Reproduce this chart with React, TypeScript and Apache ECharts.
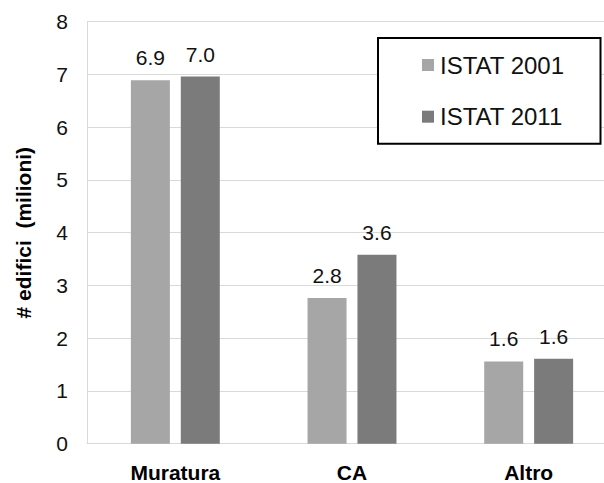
import React, { useEffect, useRef } from "react";
import * as echarts from "echarts";

const categories = ["Muratura", "CA", "Altro"];
const seriesNames = ["ISTAT 2001", "ISTAT 2011"];
const istat2001 = [6.89, 2.76, 1.56];
const istat2011 = [6.96, 3.58, 1.61];
const yMin = 0;
const yMax = 8;
const yInterval = 1;
const yAxisName = "# edifici  (milioni)";

const FONT = "'Liberation Sans', Arial, sans-serif";

export default function App() {
  const ref = useRef<HTMLDivElement>(null);
  useEffect(() => {
    if (!ref.current) return;
    const chart = echarts.init(ref.current, undefined, { renderer: "svg" });
    const labelCfg = {
      show: true,
      position: "top",
      distance: 12,
      fontSize: 21,
      lineHeight: 21,
      fontFamily: FONT,
      color: "#111",
      formatter: (p: any) => Number(p.value).toFixed(1),
    };
    chart.setOption({
      animation: false,
      backgroundColor: "#fff",
      textStyle: { fontFamily: FONT },
      grid: {
        left: 87,
        top: 21.7,
        width: 530,
        bottom: 39.3,
        containLabel: false,
        outerBoundsMode: "none",
      },
      legend: {
        orient: "vertical",
        left: 378,
        top: 38,
        padding: [15, 36, 15, 44],
        itemGap: 27.7,
        itemWidth: 12,
        itemHeight: 12,
        icon: "rect",
        borderColor: "#000",
        borderWidth: 2,
        backgroundColor: "#fff",
        textStyle: { fontSize: 24, fontFamily: FONT, color: "#111", padding: [0, 0, 0, 1] },
        data: seriesNames,
      },
      xAxis: {
        type: "category",
        data: categories,
        axisLine: { show: true, lineStyle: { color: "#d9d9d9", width: 1 } },
        axisTick: { show: false },
        axisLabel: {
          fontSize: 21,
          lineHeight: 18,
          fontWeight: "bold",
          fontFamily: FONT,
          color: "#000",
          margin: 20,
        },
      },
      yAxis: {
        type: "value",
        min: yMin,
        max: yMax,
        interval: yInterval,
        name: yAxisName,
        nameLocation: "middle",
        nameRotate: 90,
        nameGap: 53,
        nameTextStyle: { fontSize: 21, fontWeight: "bold", fontFamily: FONT, color: "#000" },
        axisLine: { show: true, lineStyle: { color: "#d9d9d9", width: 1 } },
        axisTick: { show: false },
        axisLabel: { fontSize: 21, fontFamily: FONT, color: "#111", margin: 19 },
        splitLine: { show: true, lineStyle: { color: "#d9d9d9", width: 1 } },
      },
      series: [
        {
          name: seriesNames[0],
          type: "bar",
          data: istat2001,
          barWidth: 39,
          barGap: "28%",
          itemStyle: { color: "#a6a6a6" },
          label: labelCfg,
        },
        {
          name: seriesNames[1],
          type: "bar",
          data: istat2011,
          barWidth: 39,
          barGap: "28%",
          itemStyle: { color: "#7b7b7b" },
          label: labelCfg,
        },
      ],
    });
    return () => chart.dispose();
  }, []);
  return (
    <div
      ref={ref}
      style={{ position: "fixed", left: 0, top: 0, width: 604, height: 483 }}
    />
  );
}
